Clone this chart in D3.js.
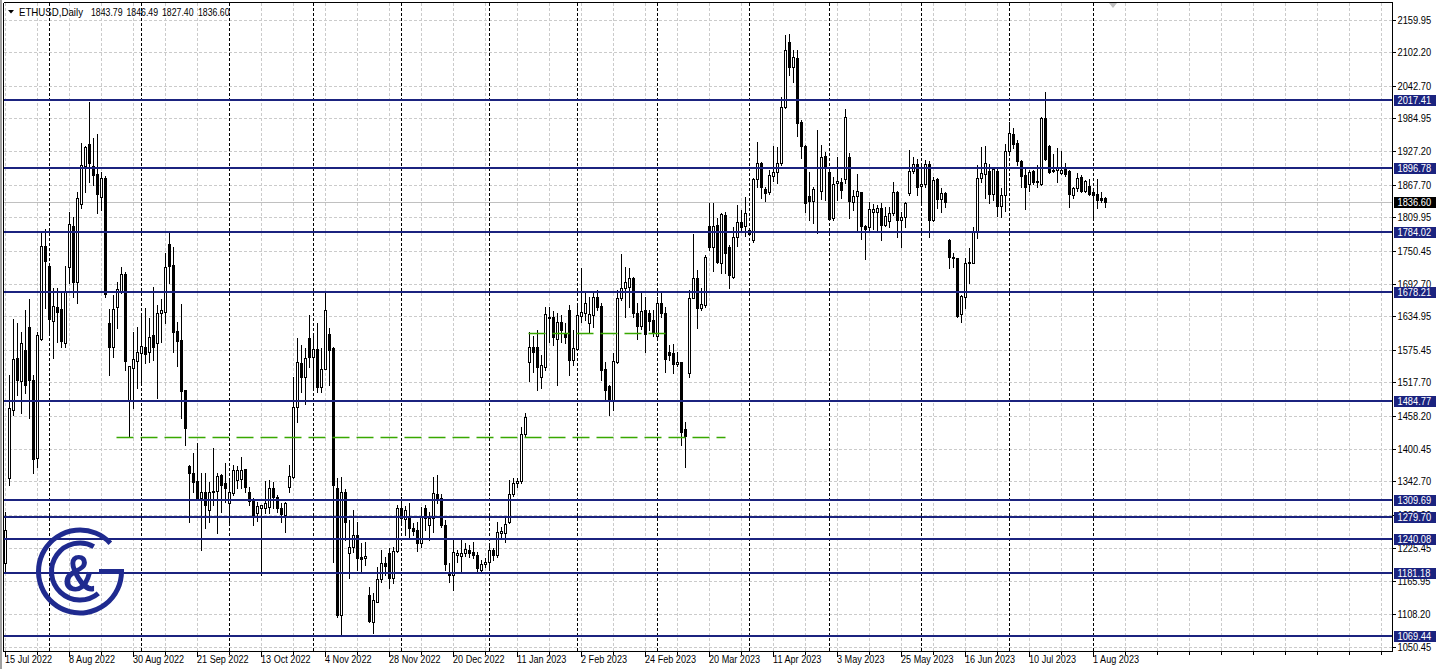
<!DOCTYPE html>
<html><head><meta charset="utf-8">
<script src="https://cdn.jsdelivr.net/npm/d3@7"></script>
<style>
html,body{margin:0;padding:0;background:#fff;overflow:hidden}
svg{display:block}
text{font-family:"Liberation Sans",Arial,sans-serif}
</style></head><body>
<svg id="c" width="1439" height="669"></svg>
<script>
// ---------------- DATA ----------------
const symbolName = "ETHUSD,Daily";
const headerValues = ["1843.79", "1846.49", "1827.40", "1836.60"];
const firstDate = [2022, 6, 15]; // 15 Jul 2022, weekday bars only

const open = [
1198,1349,1469,1561,1520,1575,1616,1522,1384,1595,
1759,1724,1627,1651,1648,1588,1722,1795,1696,1834,
1901,1940,1901,1887,1846,1880,1623,1580,1651,1680,
1710,1485,1543,1556,1570,1580,1572,1602,1588,1641,
1642,1763,1726,1609,1593,1504,1370,1358,1343,1313,
1324,1292,1326,1326,1354,1340,1304,1322,1345,1347,
1365,1324,1308,1287,1296,1296,1297,1331,1315,1296,
1283,1333,1350,1474,1552,1527,1596,1563,1577,1510,
1542,1604,1579,1331,1106,1324,1216,1227,1248,1209,
1207,1142,1094,1129,1170,1198,1216,1172,1220,1296,
1276,1278,1260,1257,1234,1296,1266,1278,1320,1313,
1266,1182,1177,1213,1211,1216,1221,1218,1213,1186,
1197,1200,1221,1213,1251,1251,1271,1320,1340,1343,
1427,1554,1580,1580,1527,1545,1634,1634,1595,1625,
1605,1646,1558,1577,1635,1641,1623,1637,1669,1653,
1542,1511,1487,1554,1667,1685,1687,1703,1641,1618,
1646,1641,1628,1600,1658,1641,1572,1570,1550,1554,
1435,1534,1667,1703,1650,1655,1795,1757,1796,1729,
1814,1757,1704,1775,1802,1795,1788,1770,1878,1906,
1860,1855,1883,1890,1906,2005,2120,2076,2092,1979,
1936,1848,1839,1865,1857,1918,1890,1809,1871,1872,
1878,1917,1837,1848,1855,1795,1793,1819,1819,1826,
1796,1803,1818,1855,1805,1810,1853,1892,1904,1865,
1869,1904,1805,1878,1842,1853,1770,1738,1738,1639,
1669,1729,1729,1786,1880,1887,1892,1851,1892,1830,
1849,1927,1957,1941,1910,1885,1869,1892,1874,1869,
1986,1936,1894,1894,1888,1897,1892,1849,1862,1881,
1857,1865,1855,1851,1844,1843.79];

const high = [
1289,1531,1630,1623,1607,1646,1666,1531,1607,1784,
1789,1726,1685,1685,1678,1724,1819,1810,1855,1941,
1936,2014,1950,1957,1890,1883,1648,1673,1696,1722,
1713,1547,1607,1616,1637,1650,1632,1687,1655,1666,
1747,1784,1757,1625,1657,1504,1372,1393,1411,1358,
1358,1342,1402,1358,1356,1375,1345,1372,1370,1386,
1365,1333,1313,1306,1301,1343,1345,1342,1319,1304,
1306,1372,1527,1596,1584,1579,1637,1605,1623,1579,
1678,1614,1580,1349,1350,1329,1274,1292,1271,1234,
1235,1156,1145,1191,1221,1209,1225,1227,1301,1315,
1299,1304,1269,1271,1297,1301,1289,1350,1354,1320,
1274,1198,1243,1221,1243,1234,1230,1235,1218,1204,
1207,1228,1225,1271,1262,1278,1345,1349,1349,1439,
1464,1607,1600,1611,1566,1651,1651,1644,1641,1637,
1623,1655,1611,1658,1720,1676,1669,1678,1681,1658,
1554,1513,1570,1681,1745,1722,1720,1704,1658,1678,
1669,1646,1646,1669,1678,1651,1584,1586,1572,1554,
1448,1681,1780,1717,1685,1743,1835,1835,1809,1818,
1819,1761,1793,1832,1823,1846,1789,1880,1943,1908,
1864,1894,1936,1934,2023,2133,2134,2106,2106,1982,
1938,1890,1864,1964,1938,1926,1897,1881,1917,1880,
2002,1924,1858,1887,1855,1796,1837,1834,1832,1835,
1828,1828,1872,1857,1819,1837,1929,1917,1913,1903,
1911,1910,1881,1880,1862,1855,1771,1747,1738,1673,
1738,1756,1793,1903,1934,1936,1904,1899,1897,1862,
1940,1979,1968,1947,1911,1895,1894,1894,1903,1987,
2032,1938,1922,1932,1927,1906,1894,1864,1888,1885,
1876,1878,1857,1878,1855,1846.49];

const low = [
1181,1336,1460,1496,1464,1499,1455,1358,1368,1593,
1650,1602,1561,1589,1580,1580,1694,1669,1658,1826,
1855,1872,1867,1818,1823,1669,1531,1563,1614,1676,
1540,1421,1473,1508,1517,1552,1554,1557,1490,1589,
1623,1694,1572,1547,1455,1407,1271,1324,1312,1221,
1260,1271,1301,1251,1289,1306,1271,1319,1331,1331,
1324,1301,1266,1273,1177,1287,1287,1296,1289,1271,
1253,1324,1349,1448,1501,1480,1545,1508,1501,1501,
1542,1513,1200,1103,1071,1239,1172,1218,1186,1182,
1195,1094,1074,1129,1165,1177,1154,1163,1218,1266,
1248,1244,1248,1220,1227,1257,1239,1253,1304,1262,
1186,1165,1150,1200,1182,1211,1209,1207,1182,1182,
1191,1186,1204,1209,1244,1235,1269,1317,1333,1340,
1421,1520,1536,1504,1508,1540,1589,1584,1513,1589,
1588,1531,1549,1575,1625,1628,1605,1616,1646,1522,
1487,1460,1469,1552,1664,1634,1651,1634,1595,1612,
1572,1611,1600,1593,1634,1536,1558,1534,1547,1407,
1368,1527,1667,1614,1646,1651,1752,1715,1729,1711,
1711,1685,1703,1759,1788,1777,1779,1766,1864,1844,
1839,1851,1874,1871,1903,2004,2062,2049,1954,1915,
1819,1805,1800,1782,1842,1841,1805,1805,1841,1844,
1871,1809,1823,1786,1771,1736,1784,1789,1784,1770,
1795,1793,1814,1775,1757,1793,1849,1888,1849,1837,
1864,1775,1803,1826,1819,1828,1720,1722,1634,1625,
1650,1694,1729,1773,1872,1844,1835,1841,1812,1810,
1821,1924,1933,1903,1864,1825,1857,1869,1864,1867,
1911,1888,1890,1872,1887,1883,1828,1844,1857,1855,
1855,1849,1809,1826,1837,1827.40];

const close = [
1257,1473,1559,1522,1588,1513,1522,1382,1602,1759,
1733,1630,1653,1642,1591,1680,1798,1696,1844,1903,
1934,1906,1885,1851,1880,1674,1580,1648,1683,1710,
1556,1547,1559,1572,1582,1568,1598,1580,1641,1646,
1722,1724,1607,1591,1503,1437,1358,1342,1313,1324,
1301,1324,1324,1352,1336,1331,1324,1363,1363,1363,
1333,1308,1283,1299,1301,1304,1331,1315,1296,1285,
1304,1352,1474,1554,1527,1561,1563,1577,1510,1542,
1646,1575,1336,1106,1324,1271,1227,1248,1207,1205,
1211,1096,1133,1170,1198,1193,1172,1220,1296,1278,
1292,1260,1255,1234,1280,1278,1278,1322,1313,1266,
1197,1177,1218,1216,1216,1223,1216,1213,1189,1197,
1200,1221,1213,1253,1255,1267,1320,1340,1343,1427,
1457,1580,1572,1545,1549,1639,1632,1598,1625,1611,
1598,1558,1579,1637,1642,1658,1639,1669,1651,1540,
1504,1485,1556,1667,1685,1696,1703,1641,1618,1644,
1604,1627,1605,1658,1641,1559,1566,1550,1554,1430,
1423,1667,1703,1650,1657,1740,1757,1795,1731,1816,
1747,1708,1775,1802,1793,1818,1780,1878,1906,1864,
1853,1885,1890,1906,2005,2106,2076,2094,1977,1936,
1835,1839,1860,1866,1917,1897,1807,1869,1874,1858,
1987,1839,1848,1857,1795,1789,1825,1825,1826,1796,
1812,1818,1855,1805,1810,1835,1892,1904,1864,1869,
1904,1805,1876,1842,1853,1837,1740,1740,1635,1671,
1729,1731,1786,1880,1888,1906,1851,1895,1830,1849,
1927,1959,1940,1910,1883,1864,1890,1873,1873,1986,
1913,1890,1891,1897,1894,1887,1851,1862,1880,1857,
1874,1851,1849,1841,1841,1836.60];

const priceTicks = [2159.95,2102.20,2042.70,1984.95,1927.20,1867.70,1809.95,1750.45,1692.70,1634.95,
                    1575.45,1517.70,1458.20,1400.45,1342.70,1283.20,1225.45,1165.95,1108.20,1050.45];
const dateTickLabels = ["15 Jul 2022","8 Aug 2022","30 Aug 2022","21 Sep 2022","13 Oct 2022","4 Nov 2022",
  "28 Nov 2022","20 Dec 2022","11 Jan 2023","2 Feb 2023","24 Feb 2023","20 Mar 2023","11 Apr 2023",
  "3 May 2023","25 May 2023","16 Jun 2023","10 Jul 2023","1 Aug 2023"];
const levelPrices = [2017.41,1896.78,1784.02,1678.21,1484.77,1309.69,1279.70,1240.08,1181.18,1069.44];
const currentPrice = 1836.60;
const greenPrices = [1421.7, 1605.7];
const greenStartBar = [28, 131];
const greenEndBar = [180, 165];

// ---------------- SETUP ----------------
const svg = d3.select("#c");
const W = 1439, H = 669;
const L = 4, R = 1392, T = 3, B = 651;
const NAVY = "#1b237f", GRID = "#cbcbcb", GREEN = "#38a800";

const x = d3.scaleLinear().domain([0, 1]).range([5.5, 9.5]);
const y = d3.scaleLinear().domain([1050.45, 2159.95]).range([646.5, 19.5]);
const py = p => Math.round(y(p));

const n = open.length;
const dates = [];
{ const d = new Date(firstDate[0], firstDate[1], firstDate[2]);
  while (dates.length < n + 90) { const w = d.getDay(); if (w !== 0 && w !== 6) dates.push(new Date(d)); d.setDate(d.getDate() + 1); } }
const fmt = d3.timeFormat("%-d %b %Y");

function squeeze(sel, f) {
  sel.each(function () { const w = this.getComputedTextLength(); d3.select(this).attr("textLength", w * f).attr("lengthAdjust", "spacingAndGlyphs"); });
}

svg.append("rect").attr("width", W).attr("height", H).attr("fill", "#fff");

const plot = svg.append("g");
plot.append("defs").append("clipPath").attr("id", "clip").append("rect")
  .attr("x", L).attr("y", T).attr("width", R - L).attr("height", B - T);
const g = plot.append("g").attr("clip-path", "url(#clip)");

// horizontal grid
g.selectAll(".hg").data(priceTicks).join("line")
  .attr("x1", L).attr("x2", R).attr("y1", d => py(d) + 0.5).attr("y2", d => py(d) + 0.5)
  .attr("stroke", GRID).attr("stroke-dasharray", "3,2");

// vertical grid every 8 bars
const vIdx = d3.range(0, 348, 8);
g.selectAll(".vg").data(vIdx).join("line")
  .attr("x1", d => x(d)).attr("x2", d => x(d)).attr("y1", T).attr("y2", B)
  .attr("stroke", GRID).attr("stroke-dasharray", "3,2");

// month separators
const sepIdx = d3.range(1, n).filter(i => dates[i].getMonth() !== dates[i - 1].getMonth());
g.selectAll(".sep").data(sepIdx).join("line")
  .attr("x1", d => x(d)).attr("x2", d => x(d)).attr("y1", T).attr("y2", B)
  .attr("stroke", "#000").attr("stroke-dasharray", "3,2");

// current price line
g.append("line").attr("x1", L).attr("x2", R).attr("y1", py(currentPrice) + 0.5).attr("y2", py(currentPrice) + 0.5)
  .attr("stroke", "#c0c0c0");

// candles
const bars = d3.range(n).map(i => ({ i, o: open[i], h: high[i], l: low[i], c: close[i] }));
const cg = g.append("g");
cg.selectAll(".wick").data(bars).join("line")
  .attr("x1", d => x(d.i)).attr("x2", d => x(d.i))
  .attr("y1", d => py(d.h)).attr("y2", d => py(d.l) + 1)
  .attr("stroke", "#000").attr("stroke-width", 1);
cg.selectAll(".body").data(bars).join("rect")
  .attr("x", d => x(d.i) - 1).attr("width", 2)
  .attr("y", d => py(Math.max(d.o, d.c)) + 0.5)
  .attr("height", d => Math.max(0, py(Math.min(d.o, d.c)) - py(Math.max(d.o, d.c))))
  .attr("fill", d => d.c >= d.o ? "#fff" : "#000")
  .attr("stroke", "#000").attr("stroke-width", 1);

// green lines
g.selectAll(".gl").data(greenPrices).join("line")
  .attr("x1", (d, k) => x(greenStartBar[k]) - 1).attr("x2", (d, k) => x(greenEndBar[k]))
  .attr("y1", d => py(d) + 0.5).attr("y2", d => py(d) + 0.5)
  .attr("stroke", GREEN).attr("stroke-width", 1.3).attr("stroke-dasharray", "17,7");

// navy levels
g.selectAll(".lv").data(levelPrices).join("line")
  .attr("x1", L).attr("x2", R).attr("y1", d => py(d)).attr("y2", d => py(d))
  .attr("stroke", NAVY).attr("stroke-width", 2);

// frame
svg.append("rect").attr("x", 0).attr("y", 0).attr("width", 2).attr("height", H).attr("fill", "#a0a0a0");
svg.append("line").attr("x1", L - 0.5).attr("x2", L - 0.5).attr("y1", T).attr("y2", B + 1).attr("stroke", "#000");
svg.append("line").attr("x1", L).attr("x2", R).attr("y1", T - 0.5).attr("y2", T - 0.5).attr("stroke", "#000");
svg.append("line").attr("x1", R + 0.5).attr("x2", R + 0.5).attr("y1", T - 1).attr("y2", B + 1).attr("stroke", "#000");
svg.append("line").attr("x1", L).attr("x2", R + 1).attr("y1", B + 0.5).attr("y2", B + 0.5).attr("stroke", "#000");

// price axis
const ax = svg.append("g");
ax.selectAll(".pt").data(priceTicks).join("line")
  .attr("x1", R + 1).attr("x2", R + 4).attr("y1", d => py(d) + 0.5).attr("y2", d => py(d) + 0.5).attr("stroke", "#000");
ax.selectAll(".pl").data(priceTicks).join("text")
  .attr("x", R + 5.5).attr("y", d => py(d) + 4).attr("font-size", 10).attr("fill", "#000")
  .text(d => d.toFixed(2)).call(squeeze, 0.93);

// time axis
const labelIdx = d3.range(0, n, 16).filter(i => dateTickLabels.includes(fmt(dates[i])));
ax.selectAll(".tt").data(vIdx).join("line")
  .attr("x1", d => x(d)).attr("x2", d => x(d)).attr("y1", B + 1).attr("y2", d => labelIdx.includes(d) ? B + 6 : B + 4).attr("stroke", "#000");
ax.selectAll(".tl").data(labelIdx).join("text")
  .attr("x", d => x(d) - 0.5).attr("y", 663).attr("font-size", 10).attr("fill", "#000")
  .text(d => fmt(dates[d])).call(squeeze, 0.91);

// level label boxes
const boxes = svg.append("g");
const boxData = levelPrices.map(p => ({ p, fill: NAVY })).concat([{ p: currentPrice, fill: "#000" }]);
boxes.selectAll("rect").data(boxData).join("rect")
  .attr("x", R + 2).attr("width", 42).attr("y", d => py(d.p) - 5).attr("height", 11).attr("fill", d => d.fill);
boxes.selectAll("text").data(boxData).join("text")
  .attr("x", R + 5.5).attr("y", d => py(d.p) + 4).attr("font-size", 10).attr("fill", "#fff")
  .text(d => d.p.toFixed(2)).call(squeeze, 0.93);

// header
svg.append("path").attr("d", "M8,10 L14,10 L11,13.5 Z").attr("fill", "#000");
const hdr = [{ t: symbolName, x: 19, w: 64 }].concat(headerValues.map((v, k) => ({ t: v, x: [91, 126.5, 162, 198][k], w: 31.5 })));
svg.selectAll(".hd").data(hdr).join("text")
  .attr("x", d => d.x).attr("y", 15.5).attr("font-size", 10.5).attr("fill", "#000")
  .attr("textLength", d => d.w).attr("lengthAdjust", "spacingAndGlyphs").text(d => d.t);

// chart shift marker
svg.append("path").attr("d", "M1109,3 L1117,3 L1113,8 Z").attr("fill", "#c0c0c0");

// logo
const logo = svg.append("g").attr("fill", "none").attr("stroke", "#1f2a8f").attr("stroke-width", 5);
const cx = 80, cy = 571.5;
const pt = (r, a) => [cx + r * Math.cos(a * Math.PI / 180), cy + r * Math.sin(a * Math.PI / 180)];
const ro = 41.5, ri = 28.5;
let a0 = pt(ro, 0), a1 = pt(ro, 317);
logo.append("path").attr("d", `M${a0[0]},${a0[1]} A${ro},${ro} 0 1 1 ${a1[0]},${a1[1]}`);
logo.append("line").attr("x1", cx + 19).attr("x2", cx + ro + 2.5).attr("y1", cy).attr("y2", cy);
let b0 = pt(ri, 50), b1 = pt(ri, 299);
logo.append("path").attr("d", `M${b0[0]},${b0[1]} A${ri},${ri} 0 1 1 ${b1[0]},${b1[1]}`);
svg.append("text").attr("x", cx - 1).attr("y", cy + 19).attr("text-anchor", "middle")
  .attr("font-size", 52).attr("font-weight", "bold").attr("fill", "#1f2a8f")
  .attr("textLength", 33).attr("lengthAdjust", "spacingAndGlyphs").text("&");
</script>
</body></html>
